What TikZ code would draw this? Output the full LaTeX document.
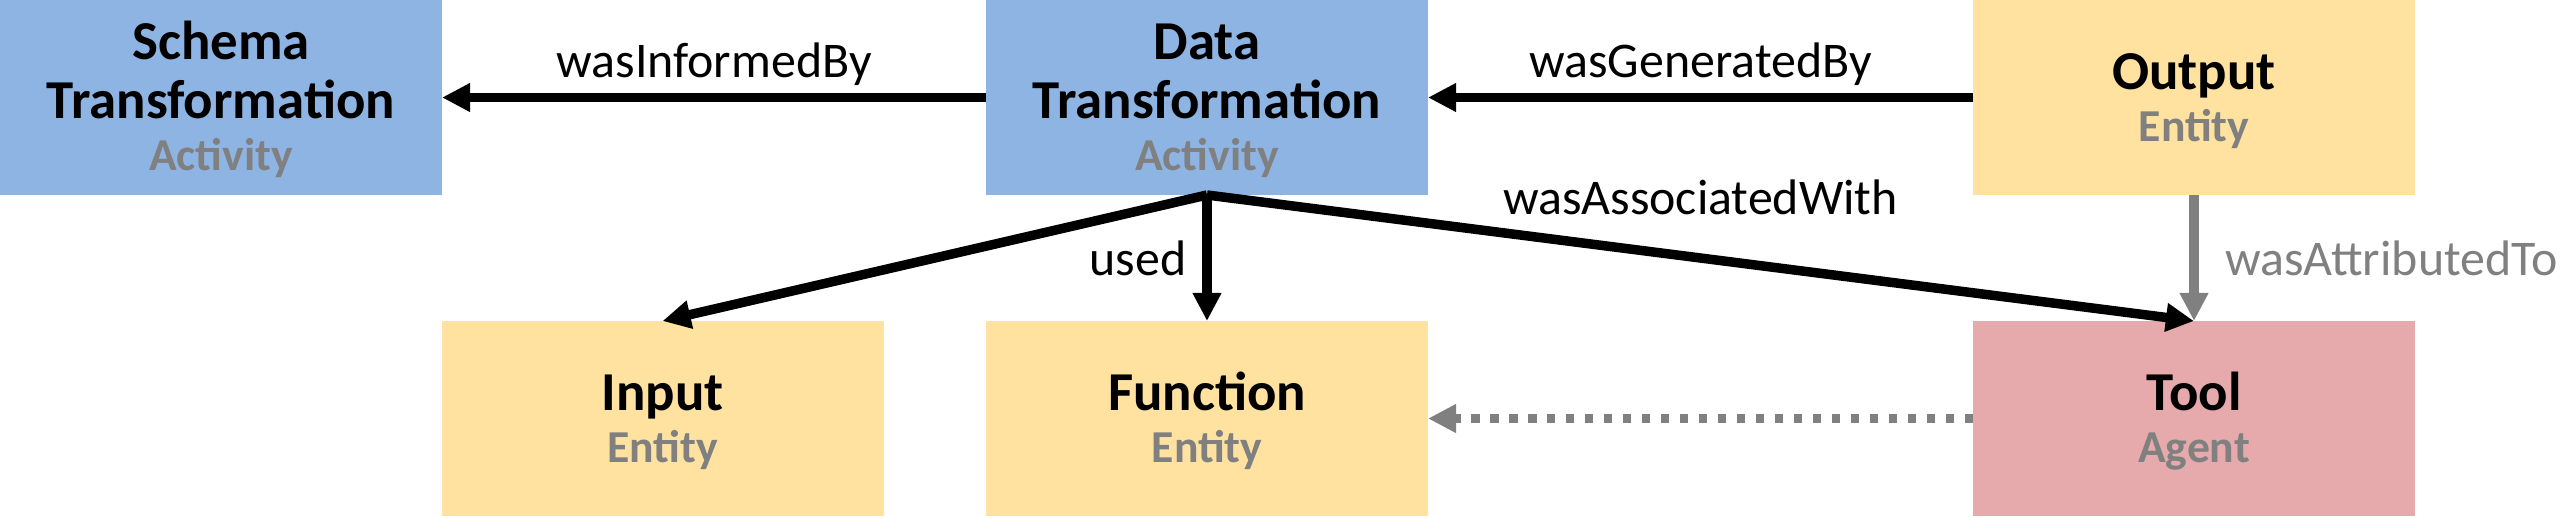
\documentclass[tikz,border=0pt]{standalone}
\usepackage{fontspec}
\setmainfont{Carlito}
\usepackage{xcolor}
\usetikzlibrary{arrows.meta}

\definecolor{actblue}{RGB}{142,180,227}
\definecolor{entyellow}{RGB}{255,226,159}
\definecolor{agentpink}{RGB}{230,170,172}
\definecolor{labgray}{RGB}{128,128,128}
\newcommand{\provtype}[1]{{\color{labgray}\fontsize{13}{14.8}\selectfont #1}}

\begin{document}
\begin{tikzpicture}[
  provbox/.style={minimum width=4.42cm, minimum height=1.95cm, inner sep=0pt, outer sep=0pt, align=center, font=\fontsize{15.6}{16.8}\selectfont\bfseries},
  activity/.style={provbox, fill=actblue},
  entity/.style={provbox, fill=entyellow},
  agent/.style={provbox, fill=agentpink},
  rel/.style={line width=2.7pt, -{Triangle[length=8pt,width=7.7pt]}},
  rellabel/.style={font=\fontsize{14.2}{16}\selectfont, inner sep=1pt}
]
\useasboundingbox (0,0) rectangle (25.6,-5.16);
% top row: the two activities and the output
\node[activity] (schema) at (2.21,-0.975) {\rule{0pt}{12pt}Schema\\Transformation\\[-2pt]\provtype{Activity}};
\node[activity] (data) at (12.07,-0.975) {\rule{0pt}{12pt}Data\\Transformation\\[-2pt]\provtype{Activity}};
\node[entity] (output) at (21.94,-0.975) {\rule{0pt}{12.5pt}Output\\[-2pt]\provtype{Entity}};
% bottom row: what the transformation used, and who ran it
\node[entity] (input) at (6.625,-4.185) {\rule{0pt}{12.5pt}Input\\[-2pt]\provtype{Entity}};
\node[entity] (function) at (12.07,-4.185) {\rule{0pt}{12.5pt}Function\\[-2pt]\provtype{Entity}};
\node[agent] (tool) at (21.94,-4.185) {\rule{0pt}{12.5pt}Tool\\[-2pt]\provtype{Agent}};
% relations
\draw[rel] (data) -- node[rellabel, above=1pt] {wasInformedBy} (schema);
\draw[rel] (output) -- node[rellabel, above=1pt] {wasGeneratedBy} (data);
\draw[rel] (data.south) -- (input.north);
\draw[rel] (data.south) -- node[rellabel, left=3.5pt] {used} (function.north);
\draw[rel] (data.south) -- node[rellabel, above=10pt] {wasAssociatedWith} (tool.north);
\draw[rel, labgray] (output.south) -- node[rellabel, right=6.5pt] {wasAttributedTo} (tool.north);
\draw[rel, labgray, dash pattern=on 2.3pt off 3.1pt] (tool) -- (function);
\end{tikzpicture}
\end{document}
